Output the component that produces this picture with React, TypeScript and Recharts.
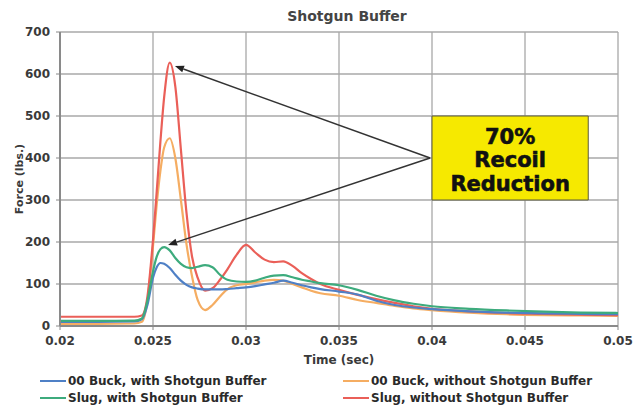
import { LineChart, Line, XAxis, YAxis, CartesianGrid, ReferenceLine, ReferenceArea } from "recharts";

// time samples (sec) shared by all four traces
const times = [
  0.02, 0.022, 0.024, 0.0244, 0.0247, 0.025, 0.0252, 0.0254, 0.0256, 0.0259,
  0.0262, 0.0265, 0.0268, 0.0271, 0.0274, 0.0278, 0.0282, 0.0286, 0.029, 0.0295,
  0.03, 0.0305, 0.031, 0.0315, 0.032, 0.0325, 0.033, 0.0335, 0.034, 0.035,
  0.036, 0.037, 0.038, 0.039, 0.04, 0.042, 0.044, 0.046, 0.048, 0.05,
];

// force (lbs.)
const buckWith = [
  10, 10, 11, 16, 50, 115, 140, 150, 148, 138,
  122, 108, 98, 92, 89, 87, 87, 87, 88, 90,
  92, 95, 99, 103, 108, 103, 97, 92, 88, 82,
  75, 60, 50, 44, 40, 35, 32, 30, 29, 28,
];
const buckWithout = [
  5, 5, 6, 10, 60, 190, 290, 370, 425, 447,
  400, 300, 195, 118, 62, 38, 50, 70, 88, 97,
  100, 104, 108, 110, 108, 100, 92, 84, 78, 72,
  62, 55, 48, 42, 38, 32, 28, 26, 25, 24,
];
const slugWith = [
  12, 12, 13, 18, 60, 130, 165, 183, 188, 180,
  162, 148, 140, 138, 141, 145, 140, 122, 110, 106,
  105, 108, 115, 120, 121, 116, 110, 106, 102, 97,
  86, 72, 61, 53, 47, 41, 37, 34, 32, 31,
];
const slugWithout = [
  22, 22, 22, 25, 70, 205, 320, 440, 545, 627,
  570, 420, 270, 165, 115, 84, 90, 110, 135, 170,
  193, 175, 158, 152, 154, 143, 126, 112, 100, 86,
  74, 64, 55, 47, 41, 35, 31, 29, 27, 26,
];

const xTicks = [0.02, 0.025, 0.03, 0.035, 0.04, 0.045, 0.05];
const yTicks = [0, 100, 200, 300, 400, 500, 600, 700];
const calloutLines = ["70%", "Recoil", "Reduction"];

const series = [
  { key: "buckWith", name: "00 Buck, with Shotgun Buffer", color: "#4f80c6" },
  { key: "buckWithout", name: "00 Buck, without Shotgun Buffer", color: "#f5ad62" },
  { key: "slugWith", name: "Slug, with Shotgun Buffer", color: "#3dab7d" },
  { key: "slugWithout", name: "Slug, without Shotgun Buffer", color: "#ea5f58" },
];

const data = times.map((t, i) => ({
  t,
  buckWith: buckWith[i],
  buckWithout: buckWithout[i],
  slugWith: slugWith[i],
  slugWithout: slugWithout[i],
}));

const font = "'DejaVu Sans', sans-serif";

function Arrow(props: any) {
  const { x1, y1, x2, y2 } = props;
  const ang = Math.atan2(y2 - y1, x2 - x1);
  const len = 9;
  const half = 3.5;
  const bx = x2 - len * Math.cos(ang);
  const by = y2 - len * Math.sin(ang);
  const px = -Math.sin(ang) * half;
  const py = Math.cos(ang) * half;
  return (
    <g>
      <line x1={x1} y1={y1} x2={bx} y2={by} stroke="#333" strokeWidth={1.5} />
      <polygon points={`${x2},${y2} ${bx + px},${by + py} ${bx - px},${by - py}`} fill="#222" />
    </g>
  );
}

function Callout(props: any) {
  const { viewBox } = props;
  const cx = viewBox.x + viewBox.width / 2;
  return (
    <text
      textAnchor="middle" fontFamily={font} fontWeight="bold" fontSize={21}
      fill="#111" stroke="#111" strokeWidth={0.6}
    >
      {calloutLines.map((s, i) => (
        <tspan key={i} x={cx} y={viewBox.y + 27.5 + i * 23.5}>
          {s}
        </tspan>
      ))}
    </text>
  );
}

export default function App() {
  const tick = { fontFamily: font, fontWeight: "bold", fontSize: 12, fill: "#3a3a3a" };
  return (
    <div style={{ position: "relative", width: 643, height: 408, background: "#fff" }}>
      <style>{"body{margin:0}"}</style>
      <div
        style={{
          position: "absolute", left: 0, width: 694, top: 8, textAlign: "center",
          fontFamily: font, fontSize: 14, fontWeight: 600, color: "#444",
        }}
      >
        Shotgun Buffer
      </div>
      <LineChart width={643} height={408} data={data} margin={{ top: 32, right: 25, left: 0, bottom: 44 }}>
        <CartesianGrid stroke="#a8a8a8" strokeWidth={1.3} />
        <XAxis
          dataKey="t"
          type="number"
          domain={[0.02, 0.05]}
          ticks={xTicks}
          height={38}
          tick={tick}
          tickSize={4}
          tickMargin={6}
          stroke="#888"
          axisLine={{ stroke: "#8a8a8a", strokeWidth: 2 }}
          label={{ value: "Time (sec)", position: "insideBottom", offset: 0, style: { ...tick, fontSize: 12 } }}
        />
        <YAxis
          type="number"
          domain={[0, 700]}
          ticks={yTicks}
          width={60}
          tick={tick}
          tickSize={4}
          tickMargin={6}
          stroke="#888"
          axisLine={{ stroke: "#8a8a8a", strokeWidth: 2 }}
          label={{ value: "Force (lbs.)", angle: -90, position: "center", dx: -11, style: { ...tick, fontSize: 11 } }}
        />
        {[series[1], series[3], series[0], series[2]].map((s) => (
          <Line
            key={s.key}
            dataKey={s.key}
            name={s.name}
            type="monotone"
            stroke={s.color}
            strokeWidth={2.2}
            dot={false}
            isAnimationActive={false}
          />
        ))}
        <ReferenceArea
          x1={0.04}
          x2={0.0484}
          y1={300}
          y2={500}
          fill="#f6e900"
          fillOpacity={1}
          stroke="#5b5a3c"
          strokeWidth={1}
          label={(p: any) => <Callout {...p} />}
        />
        <ReferenceLine segment={[{ x: 0.0399, y: 400 }, { x: 0.02618, y: 619 }]} shape={(p: any) => <Arrow {...p} />} />
        <ReferenceLine segment={[{ x: 0.0399, y: 400 }, { x: 0.02581, y: 193 }]} shape={(p: any) => <Arrow {...p} />} />
      </LineChart>
      <div
        style={{
          position: "absolute", left: 40, top: 374, width: 600,
          display: "grid", gridTemplateColumns: "303px 297px", rowGap: 3,
          fontFamily: font, fontWeight: "bold", fontSize: 12, color: "#2a2a2a",
        }}
      >
        {series.map((s) => (
          <div key={s.key} style={{ display: "flex", alignItems: "center", height: 14, whiteSpace: "nowrap" }}>
            <span style={{ display: "inline-block", width: 26, height: 2, background: s.color, marginRight: 2 }} />
            {s.name}
          </div>
        ))}
      </div>
    </div>
  );
}
